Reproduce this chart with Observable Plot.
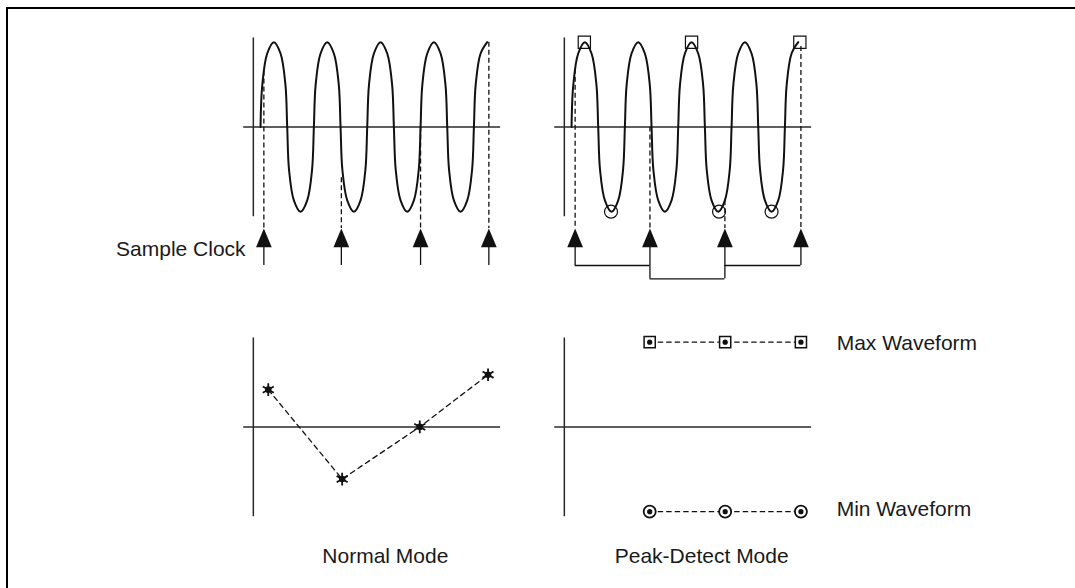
<!DOCTYPE html>
<html>
<head>
<meta charset="utf-8">
<script src="https://cdn.jsdelivr.net/npm/d3@7"></script>
<script src="https://cdn.jsdelivr.net/npm/@observablehq/plot@0.6"></script>
<style>
html, body { margin: 0; padding: 0; overflow: hidden; background: #fff; }
#wrap { position: relative; width: 1075px; height: 588px; overflow: hidden; }
#chart { position: absolute; left: 0; top: 0; }
#frame { position: absolute; left: 6px; top: 7px; right: -10px; bottom: -10px;
         border-top: 2px solid #000; border-left: 2px solid #000; pointer-events: none; }
</style>
</head>
<body>
<div id="wrap"><div id="chart"></div><div id="frame"></div></div>
<script>
// ---------- data (time in half-periods of the input signal, amplitude in peak units) ----------
const modes = ["Normal Mode", "Peak-Detect Mode"];
const rows = ["input", "acquired"];

// input sine (same signal in both modes), key points read along each lobe
const waveT = [0, 0.067, 0.25, 0.5, 0.75, 0.933, 1, 1.067, 1.25, 1.5, 1.75, 1.933,
               2, 2.067, 2.25, 2.5, 2.75, 2.933, 3, 3.067, 3.25, 3.5, 3.75, 3.933,
               4, 4.067, 4.25, 4.5, 4.75, 4.933, 5, 5.067, 5.25, 5.5, 5.75, 5.933,
               6, 6.067, 6.25, 6.5, 6.75, 6.933, 7, 7.067, 7.25, 7.5, 7.75, 7.933,
               8, 8.067, 8.25, 8.5];
const waveV = [0, 0.5, 0.866, 1, 0.866, 0.5, 0, -0.5, -0.866, -1, -0.866, -0.5,
               0, 0.5, 0.866, 1, 0.866, 0.5, 0, -0.5, -0.866, -1, -0.866, -0.5,
               0, 0.5, 0.866, 1, 0.866, 0.5, 0, -0.5, -0.866, -1, -0.866, -0.5,
               0, 0.5, 0.866, 1, 0.866, 0.5, 0, -0.5, -0.866, -1, -0.866, -0.5,
               0, 0.5, 0.866, 1];

// axes extents
const axisT = -0.27;
const axisSpanT = [-0.63, 9.0];
const axisSpanV = [-1.06, 1.05];

// sample clock
const clockTipV = -1.2;
const clockBaseV = -1.42;
const normalClockT = [0.125, 3.03, 6.0, 8.56];
const normalSampleV = [0.66, -0.6, 0, 1];
const normalStemEndV = [-1.635, -1.635, -1.635, -1.635];
const peakClockT = [0.135, 2.94, 5.75, 8.6];
const peakSampleV = [0.68, 0, -0.87, 0.95];
const peakStemEndV = [-1.635, -1.792, -1.792, -1.635];
const bracketT1 = [0.135, 2.94, 5.75];
const bracketT2 = [2.94, 5.75, 8.6];
const bracketV = [-1.635, -1.792, -1.635];

// detected peaks on the input signal (peak-detect mode)
const maxDetectT = [0.48, 4.5, 8.56];
const minDetectT = [1.48, 5.53, 7.5];

// acquired waveforms
const normalAcqT = [0.29, 3.06, 5.97, 8.53];
const normalAcqV = [0.44, -0.615, 0, 0.616];
const peakAcqT = [2.93, 5.76, 8.6];
const peakMaxV = [1, 1, 1];
const peakMinV = [-1, -1, -1];

// labels
const sampleClockLabel = {text: "Sample Clock", t: -0.56, v: -1.44};
const modeLabelT = [4.68, 4.88];
const modeLabelV = -1.526;
const waveformLabels = ["Max Waveform", "Min Waveform"];
const waveformLabelT = 9.94;
const waveformLabelV = [0.983, -0.977];

// ---------- tables ----------
const wave = waveT.map((t, i) => ({row: "input", t, v: waveV[i]}));
const clockTable = (mode, ts, vs, ends) =>
  ts.map((t, i) => ({mode, row: "input", t, v: vs[i], tip: clockTipV, base: clockBaseV, end: ends[i]}));
const clocks = [
  ...clockTable(modes[0], normalClockT, normalSampleV, normalStemEndV),
  ...clockTable(modes[1], peakClockT, peakSampleV, peakStemEndV)
];
const brackets = bracketT1.map((t1, i) => ({mode: modes[1], row: "input", t1, t2: bracketT2[i], v: bracketV[i]}));
const maxDetect = maxDetectT.map(t => ({mode: modes[1], row: "input", t, v: 1}));
const minDetect = minDetectT.map(t => ({mode: modes[1], row: "input", t, v: -1}));
const normalAcq = normalAcqT.map((t, i) => ({mode: modes[0], row: "acquired", t, v: normalAcqV[i]}));
const peakMax = peakAcqT.map((t, i) => ({mode: modes[1], row: "acquired", t, v: peakMaxV[i]}));
const peakMin = peakAcqT.map((t, i) => ({mode: modes[1], row: "acquired", t, v: peakMinV[i]}));
const modeTitles = modes.map((m, i) => ({mode: m, row: "acquired", text: m, t: modeLabelT[i], v: modeLabelV}));
const wfLabels = waveformLabels.map((s, i) => ({mode: modes[1], row: "acquired", text: s, t: waveformLabelT, v: waveformLabelV[i]}));
const scLabel = [{mode: modes[0], row: "input", ...sampleClockLabel}];

// ---------- styles ----------
const ink = "#111";
const axisInk = "#2a2a2a";
const arrowHead = {
  draw(ctx) { ctx.moveTo(0, -18.7); ctx.lineTo(7.85, 0); ctx.lineTo(-7.85, 0); ctx.closePath(); }
};
const fontFamily = "'Liberation Sans', Arial, Helvetica, sans-serif";

const chart = Plot.plot({
  width: 1075,
  height: 602,
  marginLeft: 99.76,
  marginRight: 352.44,
  marginTop: 0.2,
  marginBottom: 0,
  style: {fontFamily, background: "transparent", overflow: "visible"},
  x: {domain: [-6, 5.66], axis: null},
  y: {domain: [-2.06, 1.48], axis: null},
  fx: {domain: modes, padding: 0, axis: null},
  fy: {domain: rows, padding: 0, axis: null},
  marks: [
    // axes, repeated in every panel
    Plot.ruleY([0], {x1: axisSpanT[0], x2: axisSpanT[1], stroke: axisInk, strokeWidth: 1.5}),
    Plot.ruleX([axisT], {y1: axisSpanV[0], y2: axisSpanV[1], stroke: axisInk, strokeWidth: 1.5}),
    // input signal
    Plot.line(wave, {x: "t", y: "v", fy: "row", curve: "catmull-rom", stroke: ink, strokeWidth: 2}),
    // sample lines down to the clock
    Plot.ruleX(clocks, {x: "t", y1: "v", y2: "tip", fx: "mode", fy: "row", stroke: ink, strokeWidth: 1.3, strokeDasharray: "5,3"}),
    Plot.ruleX(clocks, {x: "t", y1: "base", y2: "end", fx: "mode", fy: "row", stroke: ink, strokeWidth: 1.3}),
    Plot.dot(clocks, {x: "t", y: "base", fx: "mode", fy: "row", symbol: arrowHead, r: 5, fill: ink, stroke: "none"}),
    Plot.ruleY(brackets, {y: "v", x1: "t1", x2: "t2", fx: "mode", fy: "row", stroke: ink, strokeWidth: 1.3}),
    // detected max / min
    Plot.dot(maxDetect, {x: "t", y: "v", fx: "mode", fy: "row", symbol: "square", r: 6.9, fill: "none", stroke: ink, strokeWidth: 1.2}),
    Plot.dot(minDetect, {x: "t", y: "v", fx: "mode", fy: "row", symbol: "circle", r: 6.5, fill: "none", stroke: ink, strokeWidth: 1.2}),
    // acquired: normal mode
    Plot.line(normalAcq, {x: "t", y: "v", fx: "mode", fy: "row", stroke: ink, strokeWidth: 1.3, strokeDasharray: "5,4"}),
    Plot.dot(normalAcq, {x: "t", y: "v", fx: "mode", fy: "row", symbol: "asterisk", r: 6, stroke: ink, strokeWidth: 1.8, fill: "none"}),
    Plot.dot(normalAcq, {x: "t", y: "v", fx: "mode", fy: "row", r: 3.3, fill: ink, stroke: "none"}),
    // acquired: peak-detect mode
    Plot.line(peakMax, {x: "t", y: "v", fx: "mode", fy: "row", stroke: ink, strokeWidth: 1.2, strokeDasharray: "4.5,4"}),
    Plot.line(peakMin, {x: "t", y: "v", fx: "mode", fy: "row", stroke: ink, strokeWidth: 1.2, strokeDasharray: "4.5,4"}),
    Plot.dot(peakMax, {x: "t", y: "v", fx: "mode", fy: "row", symbol: "square", r: 6.3, fill: "white", stroke: ink, strokeWidth: 1.5}),
    Plot.dot(peakMin, {x: "t", y: "v", fx: "mode", fy: "row", symbol: "circle", r: 6, fill: "white", stroke: ink, strokeWidth: 1.8}),
    Plot.dot([...peakMax, ...peakMin], {x: "t", y: "v", fx: "mode", fy: "row", r: 2.6, fill: ink, stroke: "none"}),
    // labels
    Plot.text(scLabel, {x: "t", y: "v", text: "text", fx: "mode", fy: "row", textAnchor: "end", lineAnchor: "middle", fontSize: 21, fill: "#1a1a1a"}),
    Plot.text(modeTitles, {x: "t", y: "v", text: "text", fx: "mode", fy: "row", textAnchor: "middle", lineAnchor: "middle", fontSize: 21, fill: "#1a1a1a"}),
    Plot.text(wfLabels, {x: "t", y: "v", text: "text", fx: "mode", fy: "row", textAnchor: "start", lineAnchor: "middle", fontSize: 21, fill: "#1a1a1a"})
  ]
});
document.getElementById("chart").append(chart);
</script>
</body>
</html>
